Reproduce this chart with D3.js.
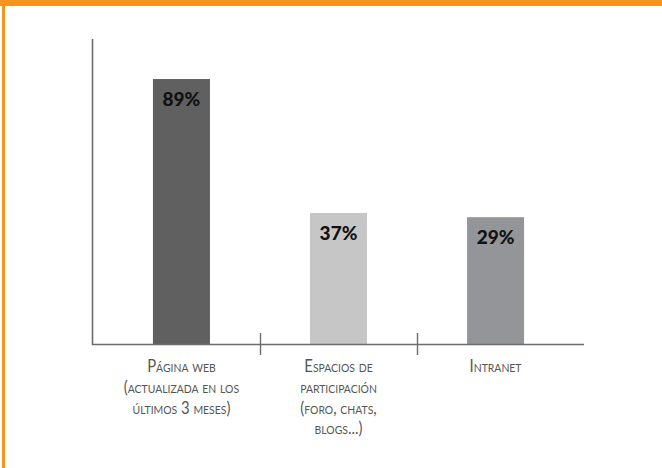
<!DOCTYPE html>
<html>
<head>
<meta charset="utf-8">
<script src="https://cdn.jsdelivr.net/npm/d3@7"></script>
<style>
  html, body { margin: 0; padding: 0; background: #fff; }
  svg { display: block; }
</style>
</head>
<body>
<svg id="chart" width="662" height="468"></svg>
<script>
// Data
const categories = ["web", "participacion", "intranet"];
const categoryLines = [
  ["Página web", "(actualizada en los", "últimos 3 meses)"],
  ["Espacios de", "participación", "(foro, chats,", "blogs...)"],
  ["Intranet"]
];
const valueLabels = ["89%", "37%", "29%"];
// bar heights as drawn in the picture (same scale as 89%)
const barValues = [89, 44, 42.6];
const barColors = ["#606060", "#c6c6c7", "#939598"];

const svg = d3.select("#chart");

// frame
svg.append("rect").attr("x", 0).attr("y", 0).attr("width", 662).attr("height", 6).attr("fill", "#f7941d");
svg.append("rect").attr("x", 2).attr("y", 0).attr("width", 3).attr("height", 468).attr("fill", "#f7941d");

const x = d3.scaleBand().domain(categories).range([103, 574]).paddingInner(0.637).paddingOuter(0.318);
const y = d3.scaleLinear().domain([0, 100]).range([344, 46.3]);

const g = svg.append("g");

// bars
g.selectAll("rect.bar").data(categories).join("rect")
  .attr("class", "bar")
  .attr("x", d => x(d))
  .attr("width", x.bandwidth())
  .attr("y", (d, i) => y(barValues[i]))
  .attr("height", (d, i) => y(0) - y(barValues[i]))
  .attr("fill", (d, i) => barColors[i]);

// axes
const axisColor = "#6d6d6d";
g.append("line").attr("x1", 92.5).attr("x2", 92.5).attr("y1", 39).attr("y2", y(0) + 1)
  .attr("stroke", axisColor).attr("stroke-width", 1.6);
g.append("line").attr("x1", 92).attr("x2", 584).attr("y1", y(0) + 0.5).attr("y2", y(0) + 0.5)
  .attr("stroke", axisColor).attr("stroke-width", 1.6);

const step = x.step();
categories.slice(1).forEach(c => {
  const tx = Math.round(x(c) - step * x.paddingInner() / 2) + 0.5;
  g.append("line").attr("x1", tx).attr("x2", tx).attr("y1", y(0) - 11).attr("y2", y(0) + 11)
    .attr("stroke", axisColor).attr("stroke-width", 1.4);
});

// value labels
g.selectAll("text.val").data(categories).join("text")
  .attr("class", "val")
  .attr("x", d => x(d) + x.bandwidth() / 2)
  .attr("y", (d, i) => y(barValues[i]) + 27)
  .attr("text-anchor", "middle")
  .attr("font-family", "Lato, 'Open Sans', sans-serif")
  .attr("font-weight", 900)
  .attr("font-size", 19)
  .attr("fill", "#111")
  .text((d, i) => valueLabels[i]);

// category labels
categories.forEach((c, i) => {
  const cx = x(c) + x.bandwidth() / 2;
  const t = g.append("text")
    .attr("transform", `translate(${cx},372) scale(0.9,1)`)
    .attr("text-anchor", "middle")
    .attr("font-family", "Lato, 'Open Sans', sans-serif")
    .attr("font-size", 16.5)
    .style("font-variant", "small-caps")
    .attr("fill", "#555");
  categoryLines[i].forEach((line, j) => {
    t.append("tspan").attr("x", 0).attr("dy", j === 0 ? 0 : 20.8).text(line);
  });
});
</script>
</body>
</html>
